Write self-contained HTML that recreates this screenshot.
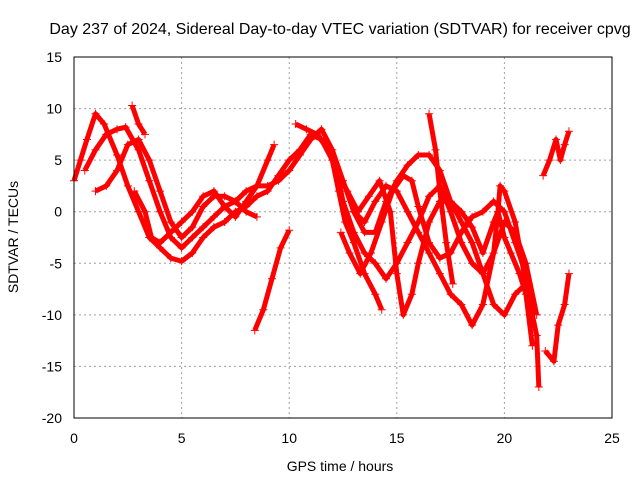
<!DOCTYPE html>
<html><head><meta charset="utf-8"><style>
body{margin:0;background:#fff;}
svg text{font-family:"Liberation Sans",sans-serif;font-size:14px;fill:#000;}
</style></head><body>
<svg width="640" height="480" viewBox="0 0 640 480">
<text x="340" y="34" text-anchor="middle" style="font-size:16px">Day 237 of 2024, Sidereal Day-to-day VTEC variation (SDTVAR) for receiver cpvg</text>
<g id="grid"></g>
<g id="ticks"></g>
<g id="series"></g>
<rect x="74" y="57" width="538" height="361" fill="none" stroke="#000"/>
<text x="340" y="471" text-anchor="middle">GPS time / hours</text>
<text transform="translate(18,237) rotate(-90)" text-anchor="middle">SDTVAR / TECUs</text>
<script>
const xTicks=[0,5,10,15,20,25];
const yTicks=[15,10,5,0,-5,-10,-15,-20];
const track1=[[0,3],[0.3,5],[0.6,7],[1,9.5],[1.4,8.5],[2,5.5],[2.5,2.5],[3,0],[3.5,-2.5],[4,-3.5],[4.5,-4.5],[5,-4.8],[5.5,-4],[6,-2.5],[6.5,-1.5],[7,-1],[7.5,0],[8,0.5],[8.5,1.5],[9,2],[9.5,3.5],[10,5],[10.5,6],[11,7.5],[11.5,7],[12,5],[12.3,2],[12.6,-1],[13,-3],[13.5,-6],[14,-8],[14.3,-9.5]];
const track2=[[0.5,4],[1,6],[1.5,7.5],[2,8],[2.4,8.2],[3,6],[3.5,3],[4,0],[4.5,-2.5],[5,-3.5],[5.5,-2.5],[6,-1.5],[6.5,-0.5],[7,0.5],[7.5,1],[8,2],[8.5,2.5],[9,2.5],[9.5,3],[10,4],[10.5,5.5],[11,7],[11.5,8],[12,6],[12.5,3],[13,0],[13.5,-2],[14,-2],[14.5,1],[15,3],[15.5,4.5],[16,5.5],[16.5,5.5],[17,4],[17.5,1],[18,-1],[18.5,-3],[19,-6],[19.5,-9],[20,-10],[20.5,-8],[21,-7],[21.3,-9]];
const track3=[[1,2],[1.5,2.5],[2,4],[2.5,6.5],[3,7],[3.5,5],[4,2],[4.5,-1],[5,-2.5],[5.5,-1.5],[6,0.5],[6.5,1.5],[7,1.5],[7.5,1],[8,0],[8.5,-0.5]];
const track4=[[2.8,2],[3.3,0],[3.6,-2.5],[4,-3],[4.5,-2],[5,-1],[5.5,0],[6,1.5],[6.5,2],[7,0.5],[7.5,-0.5],[8,1],[8.5,2.5],[9,5],[9.3,6.5]];
const track5=[[10.3,8.5],[10.8,8],[11.3,7.5],[11.8,6],[12.2,4],[12.5,1],[13,-2],[13.5,-4],[14,-5],[14.5,-6.5],[15,-5],[15.5,-3],[16,-1],[16.5,1.5],[17,2.5],[17.5,0],[18,-3],[18.5,-5],[19,-6],[19.5,-4],[20,-1],[20.5,-2],[21,-5],[21.5,-10]];
const track6=[[12.4,-2],[12.8,-4],[13.3,-6],[13.8,-4],[14.3,-1],[14.8,2],[15.3,3.5],[15.7,3],[16,0.5],[16.5,-3],[17,-4.5],[17.5,-4],[18,-2],[18.5,-0.5],[19,0],[19.5,1],[20,0],[20.5,-3],[21,-6],[21.3,-9]];
const track7=[[12.2,4],[12.7,2],[13.2,0],[13.7,1.5],[14.2,3],[14.7,0],[15,-6],[15.3,-10],[15.7,-8],[16,-5],[16.5,-1],[17,1],[17.5,1],[18,0],[18.5,-1.5],[19,-4],[19.5,-1],[19.7,0],[20,-2.5],[20.3,-4],[20.7,-6],[21,-8],[21.3,-13]];
const track8=[[13,0],[13.5,-1],[14,1],[14.5,2.5],[15,2],[15.5,0],[16,-2],[16.5,-4],[17,-6],[17.5,-8],[18,-9],[18.5,-11],[19,-9],[19.5,-4],[19.7,0],[19.8,2.5],[20,2],[20.5,-1],[21,-7],[21.5,-12],[21.6,-17]];
const track9=[[8.4,-11.5],[8.8,-9.5],[9.2,-6.5],[9.6,-3.5],[10,-1.8]];
const track10=[[2.7,10.3],[3,8.5],[3.3,7.5]];
const track11=[[16.5,9.5],[16.8,6],[17,2],[17.3,-3],[17.6,-7]];
const track12=[[21.8,3.5],[22.1,5],[22.4,7],[22.6,5],[22.8,6.5],[23,7.8]];
const track13=[[21.9,-13.5],[22.3,-14.5],[22.5,-11],[22.8,-9],[23,-6]];
const tracks=[track1,track2,track3,track4,track5,track6,track7,track8,track9,track10,track11,track12,track13];
const NS='http://www.w3.org/2000/svg';
const X=h=>74+h*(538/25);
const Y=v=>57+(15-v)*(361/35);
const grid=document.getElementById('grid'),ticks=document.getElementById('ticks'),ser=document.getElementById('series');
xTicks.forEach(t=>{
 if(t>0&&t<25){const l=document.createElementNS(NS,'line');
 l.setAttribute('x1',X(t));l.setAttribute('x2',X(t));l.setAttribute('y1',57);l.setAttribute('y2',418);
 l.setAttribute('stroke','#a0a0a0');l.setAttribute('stroke-dasharray','2,3');
 
 grid.appendChild(l);}
 const tx=document.createElementNS(NS,'text');tx.setAttribute('x',X(t));tx.setAttribute('y',443);tx.setAttribute('text-anchor','middle');tx.textContent=t;
 
 ticks.appendChild(tx);
});
yTicks.forEach(t=>{
 if(t<15&&t>-20){const l=document.createElementNS(NS,'line');
 l.setAttribute('x1',74);l.setAttribute('x2',612);l.setAttribute('y1',Y(t));l.setAttribute('y2',Y(t));
 l.setAttribute('stroke','#a0a0a0');l.setAttribute('stroke-dasharray','2,3');
 
 grid.appendChild(l);}
 const tx=document.createElementNS(NS,'text');tx.setAttribute('x',62);tx.setAttribute('y',Y(t)+5);tx.setAttribute('text-anchor','end');tx.textContent=t;
 
 ticks.appendChild(tx);
});
tracks.forEach(tr=>{
 const p=document.createElementNS(NS,'polyline');
 p.setAttribute('points',tr.map(d=>X(d[0])+','+Y(d[1])).join(' '));
 p.setAttribute('fill','none');p.setAttribute('stroke','#f00');p.setAttribute('stroke-width','5');p.setAttribute('stroke-linejoin','round');
 
 ser.appendChild(p);
 tr.forEach(d=>{
  const m=document.createElementNS(NS,'path');const x=X(d[0]),y=Y(d[1]);
  m.setAttribute('d',`M${x-4},${y}H${x+4}M${x},${y-4}V${y+4}`);m.setAttribute('stroke','#f00');
  
  ser.appendChild(m);
 });
});
</script>
</svg>
</body></html>
